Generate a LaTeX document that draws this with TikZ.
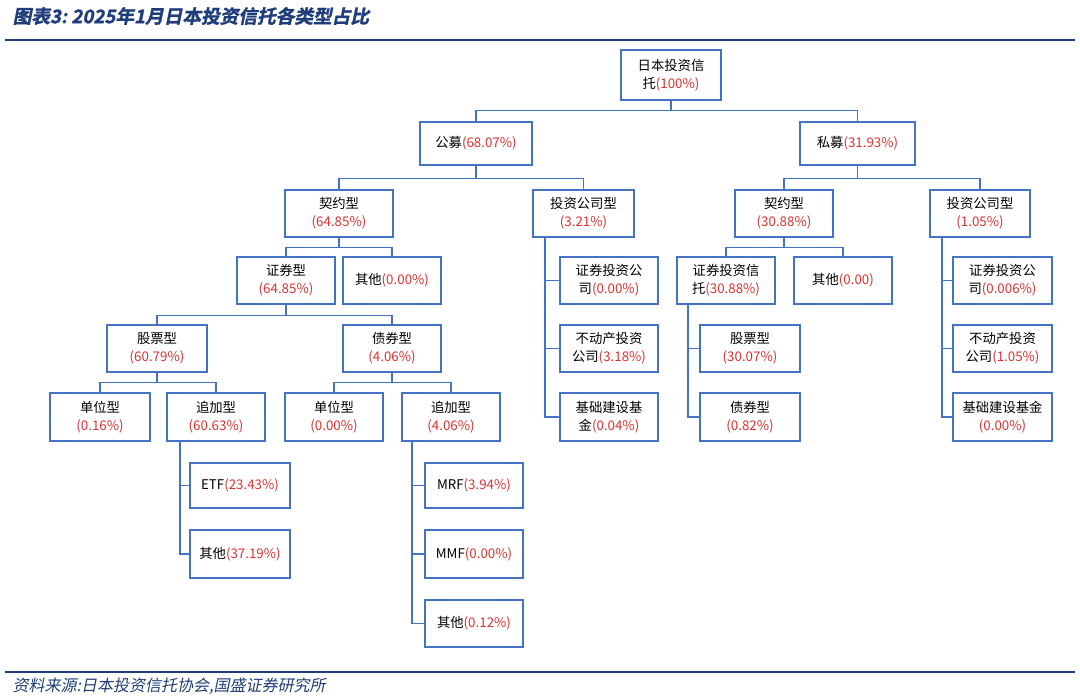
\documentclass[tikz,border=0pt]{standalone}
\usepackage{fontspec}
\newfontfamily\cjk{Noto Sans CJK SC}
\newfontfamily\cjksl[FakeSlant=0.2]{Noto Sans CJK SC}
\newfontfamily\cjkslb[FakeSlant=0.2,FakeBold=1.5]{Noto Sans CJK SC Bold}
\definecolor{bx}{HTML}{4472C4}
\definecolor{pc}{HTML}{E0302F}
\definecolor{tt}{HTML}{1F3D7A}
\newcommand{\pp}[1]{\textcolor{pc}{#1}}
\newcommand{\bxn}[6]{\node[box,minimum width={(#4-#2)*0.75pt},minimum height={(#5-#3)*0.75pt}] (#1) at ({(#2+#4)/2},{(#3+#5)/2}) {#6};}
\begin{document}
\begin{tikzpicture}[x=0.75pt,y=-0.75pt,
 box/.style={draw=bx,line width=0.9pt,inner sep=1pt,align=center,font=\cjk\fontsize{10}{13.5}\selectfont},
 ln/.style={draw=bx,line width=0.9pt}]
\useasboundingbox (0,0) rectangle (1080,697);
\node[anchor=west,text=tt,font=\cjkslb\fontsize{14}{16}\selectfont] (title) at (8,16) {图表3:\ 2025年1月日本投资信托各类型占比};
\draw[tt,line width=1pt] (5,40) -- (1075,40);
\draw[tt,line width=1pt] (5,672) -- (1075,672);
\node[anchor=west,text=tt,font=\cjksl\fontsize{12}{14}\selectfont] (src) at (8,686) {资料来源:日本投资信托协会,国盛证券研究所};
\bxn{root}{621}{50}{721}{100}{日本投资信\\托\pp{(100\%)}}
\bxn{gm}{420}{122}{532}{165}{公募\pp{(68.07\%)}}
\bxn{sm}{800}{122}{915}{165}{私募\pp{(31.93\%)}}
\bxn{qyL}{285}{190}{393}{237}{契约型\\\pp{(64.85\%)}}
\bxn{tzL}{533}{190}{634}{237}{投资公司型\\\pp{(3.21\%)}}
\bxn{qyR}{735}{190}{833}{237}{契约型\\\pp{(30.88\%)}}
\bxn{tzR}{930}{190}{1030}{237}{投资公司型\\\pp{(1.05\%)}}
\bxn{zq}{237}{257}{335}{304}{证券型\\\pp{(64.85\%)}}
\bxn{qtL}{343}{257}{441}{304}{其他\pp{(0.00\%)}}
\bxn{zqxt}{677}{257}{775}{304}{证券投资信\\托\pp{(30.88\%)}}
\bxn{qtR}{794}{257}{892}{304}{其他\pp{(0.00)}}
\bxn{zgL}{560}{257}{658}{304}{证券投资公\\司\pp{(0.00\%)}}
\bxn{zgR}{953}{257}{1052}{304}{证券投资公\\司\pp{(0.006\%)}}
\bxn{gpL}{107}{325}{207}{372}{股票型\\\pp{(60.79\%)}}
\bxn{zqL}{343}{325}{441}{372}{债券型\\\pp{(4.06\%)}}
\bxn{bdL}{560}{325}{658}{372}{不动产投资\\公司\pp{(3.18\%)}}
\bxn{gpR}{700}{325}{800}{372}{股票型\\\pp{(30.07\%)}}
\bxn{bdR}{953}{325}{1052}{372}{不动产投资\\公司\pp{(1.05\%)}}
\bxn{dw1}{50}{393}{150}{441}{单位型\\\pp{(0.16\%)}}
\bxn{zj1}{167}{393}{265}{441}{追加型\\\pp{(60.63\%)}}
\bxn{dw2}{285}{393}{383}{441}{单位型\\\pp{(0.00\%)}}
\bxn{zj2}{402}{393}{500}{441}{追加型\\\pp{(4.06\%)}}
\bxn{jcL}{560}{393}{658}{441}{基础建设基\\金\pp{(0.04\%)}}
\bxn{zqR}{700}{393}{800}{441}{债券型\\\pp{(0.82\%)}}
\bxn{jcR}{953}{393}{1052}{441}{基础建设基金\\\pp{(0.00\%)}}
\bxn{etf}{190}{463}{290}{508}{ETF\pp{(23.43\%)}}
\bxn{qt1}{190}{530}{290}{578}{其他\pp{(37.19\%)}}
\bxn{mrf}{425}{463}{523}{508}{MRF\pp{(3.94\%)}}
\bxn{mmf}{425}{530}{523}{578}{MMF\pp{(0.00\%)}}
\bxn{qt2}{425}{600}{523}{647}{其他\pp{(0.12\%)}}
% tree buses
\draw[ln] (root.south) -- ++(0,10) -| (gm.north);
\draw[ln] (root.south) ++(0,10) -| (sm.north);
\draw[ln] (gm.south) -- ++(0,13) -| (qyL.north);
\draw[ln] (gm.south) ++(0,13) -| (tzL.north);
\draw[ln] (sm.south) -- ++(0,13) -| (qyR.north);
\draw[ln] (sm.south) ++(0,13) -| (tzR.north);
\draw[ln] (qyL.south) -- ++(0,10) -| (zq.north);
\draw[ln] (qyL.south) ++(0,10) -| (qtL.north);
\draw[ln] (qyR.south) -- ++(0,10) -| (zqxt.north);
\draw[ln] (qyR.south) ++(0,10) -| (qtR.north);
\draw[ln] (zq.south) -- ++(0,11) -| (gpL.north);
\draw[ln] (zq.south) ++(0,11) -| (zqL.north);
\draw[ln] (gpL.south) -- ++(0,10) -| (dw1.north);
\draw[ln] (gpL.south) ++(0,10) -| (zj1.north);
\draw[ln] (zqL.south) -- ++(0,10) -| (dw2.north);
\draw[ln] (zqL.south) ++(0,10) -| (zj2.north);
% side branches
\coordinate (a1) at (180,441); \draw[ln] (a1) |- (qt1.west); \draw[ln] (a1) |- (etf.west);
\coordinate (a2) at (412,441); \draw[ln] (a2) |- (qt2.west); \draw[ln] (a2) |- (mrf.west); \draw[ln] (a2) |- (mmf.west);
\coordinate (a3) at (545,237); \draw[ln] (a3) |- (jcL.west); \draw[ln] (a3) |- (zgL.west); \draw[ln] (a3) |- (bdL.west);
\coordinate (a4) at (688,304); \draw[ln] (a4) |- (zqR.west); \draw[ln] (a4) |- (gpR.west);
\coordinate (a5) at (942,237); \draw[ln] (a5) |- (jcR.west); \draw[ln] (a5) |- (zgR.west); \draw[ln] (a5) |- (bdR.west);
\end{tikzpicture}
\end{document}
